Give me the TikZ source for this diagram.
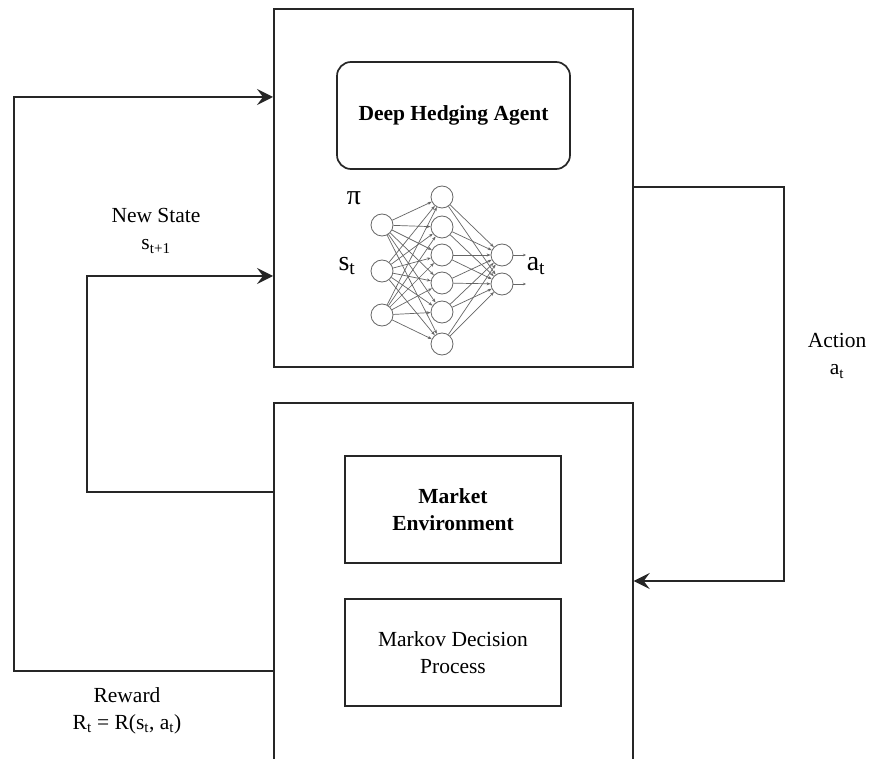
\documentclass[tikz,border=0pt]{standalone}
\usepackage{fontspec}
\setmainfont{Liberation Serif}
\usetikzlibrary{arrows.meta,calc}
\begin{document}
\begin{tikzpicture}[x=1pt,y=-1pt,
  every node/.style={font=\fontsize{21.5}{27}\selectfont, text=black},
  frame/.style={draw=black!85, line width=1.7pt, inner sep=0pt, anchor=north west, fill=white},
  innerbox/.style={draw=black!85, line width=1.7pt, inner sep=0pt, align=center,
    minimum width=216pt, minimum height=107pt},
  flow/.style={draw=black!85, line width=1.7pt, -{Stealth[length=16pt,width=16pt,inset=6pt]}},
  neuron/.style={circle, draw=black!60, line width=0.8pt, fill=white, minimum size=22pt, inner sep=0pt},
  synapse/.style={draw=black!60, line width=0.7pt, -{Stealth[length=4pt,width=3pt]}},
  biglabel/.style={font=\fontsize{28}{32}\selectfont},
  caption/.style={align=center}
]
\useasboundingbox (0,0) rectangle (870,759);
\clip (0,0) rectangle (870,759);

% agent and environment frames
\node[frame, minimum width=359pt, minimum height=358pt] (agent) at (273,8) {};
\node[frame, minimum width=359pt, minimum height=420pt] (env) at (273,402) {};

% agent contents
\node[draw=black!85, line width=1.7pt, rounded corners=14pt, minimum width=233pt,
  minimum height=107pt, font=\fontsize{21.5}{27}\selectfont\bfseries] (dha) at (453.5,115.5) {Deep Hedging Agent};

% policy network
\foreach \i/\y in {1/225,2/271,3/315} \node[neuron] (a\i) at (382,\y) {};
\foreach \j/\y in {1/197,2/227,3/255,4/283,5/312,6/344} \node[neuron] (b\j) at (442,\y) {};
\foreach \k/\y in {1/255,2/284} \node[neuron] (c\k) at (502,\y) {};
\foreach \i in {1,2,3} \foreach \j in {1,...,6} \draw[synapse] (a\i) -- (b\j);
\foreach \j in {1,...,6} \foreach \k in {1,2} \draw[synapse] (b\j) -- (c\k);
\coordinate (o1) at (526,255);
\coordinate (o2) at (526,284);
\draw[synapse, -{Stealth[length=3pt,width=2.5pt]}] (c1) -- (o1);
\draw[synapse, -{Stealth[length=3pt,width=2.5pt]}] (c2) -- (o2);

\node[biglabel] (pi) at (354,198) {π};
\node[biglabel] (st) at (347,266) {s\textsubscript{t}};
\node[biglabel] (at) at (536,266) {a\textsubscript{t}};

% environment contents
\node[innerbox, font=\fontsize{21.5}{27}\selectfont\bfseries] (market) at (453,509.5) {Market\\Environment};
\node[innerbox] (mdp) at (453,652.5) {Markov Decision\\Process};

% action loop
\coordinate (actTop) at (784,187);
\coordinate (actBot) at (784,581);
\draw[flow] (agent.east |- actTop) -- (actTop) -- (actBot) -- (env.east |- actBot);
\node[caption] (actlbl) at (837,356) {Action\\a\textsubscript{t}};

% new state loop
\coordinate (nsBot) at (87,492);
\coordinate (nsTop) at (87,276);
\draw[flow] (env.west |- nsBot) -- (nsBot) -- (nsTop) -- (agent.west |- nsTop);
\node[caption] (nslbl) at (156,231) {New State\\s\textsubscript{t+1}};

% reward loop
\coordinate (rwBot) at (14,671);
\coordinate (rwTop) at (14,97);
\draw[flow] (env.west |- rwBot) -- (rwBot) -- (rwTop) -- (agent.west |- rwTop);
\node[caption] (rwlbl) at (127,711) {Reward\\R\textsubscript{t} = R(s\textsubscript{t}, a\textsubscript{t})};
\end{tikzpicture}
\end{document}
